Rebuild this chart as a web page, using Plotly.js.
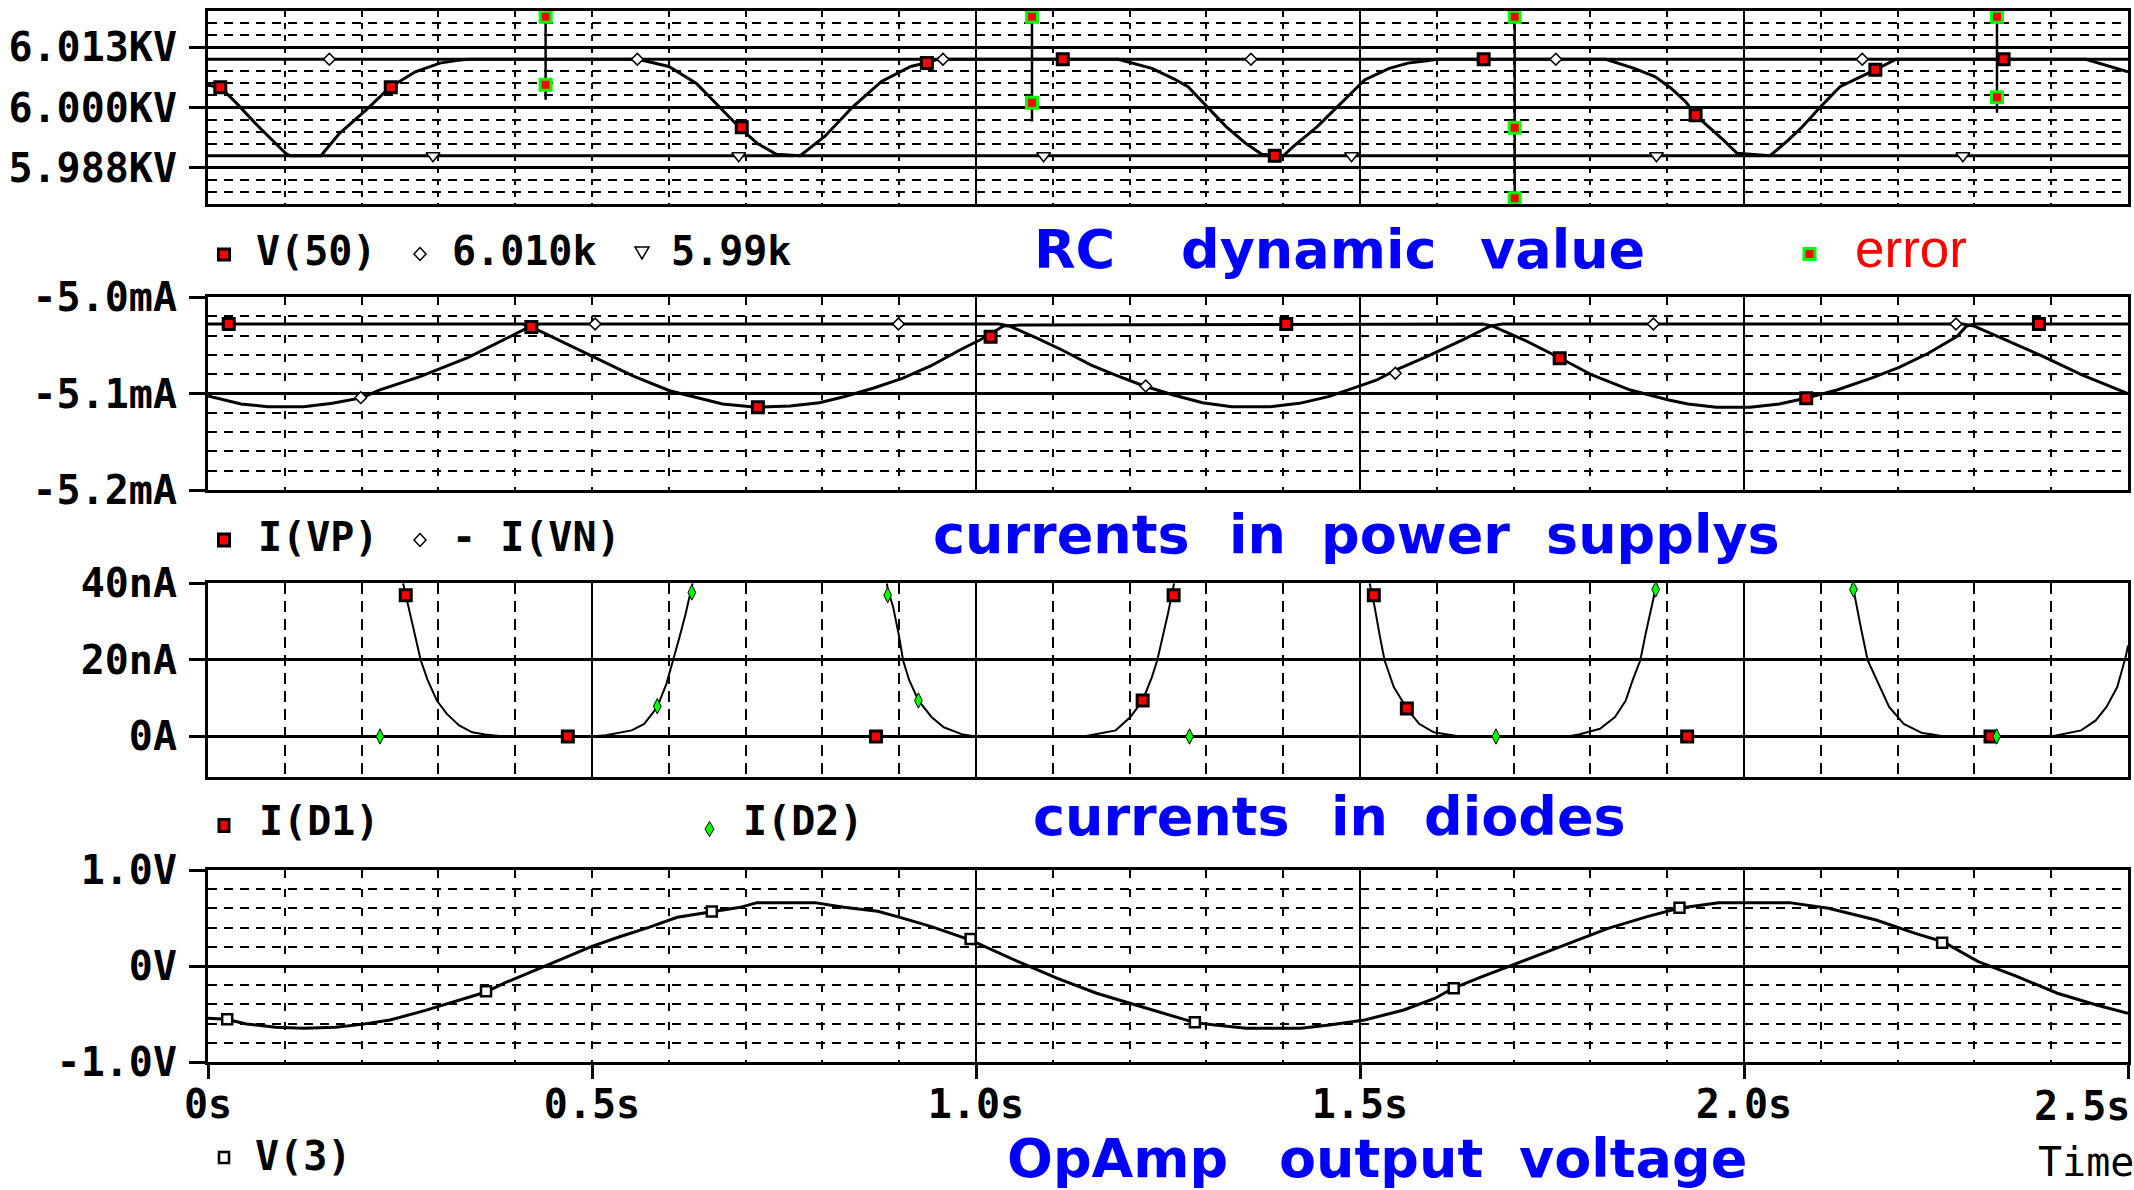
<!DOCTYPE html>
<html><head><meta charset="utf-8">
<script src="https://cdn.plot.ly/plotly-3.0.1.min.js"></script>
<style>html,body{margin:0;padding:0;background:#fff;overflow:hidden}#chart{width:2134px;height:1190px}</style>
</head><body><div id="chart"></div>
<script>
// ---------------- DATA ----------------
// Plot 1 : RC dynamic value (V)
const t_v50 = [0,0.016,0.037,0.066,0.101,0.107,0.147,0.171,0.206,0.237,0.270,0.302,0.325,0.34,0.56,0.60,0.636,0.665,0.693,0.715,0.740,0.771,0.803,0.840,0.877,0.915,0.936,0.95,1.185,1.229,1.257,1.276,1.301,1.326,1.351,1.372,1.40,1.413,1.444,1.475,1.506,1.538,1.5625,1.587,1.60,1.82,1.857,1.884,1.905,1.924,1.937,1.954,1.973,1.991,2.034,2.058,2.076,2.10,2.125,2.172,2.198,2.445,2.484,2.50];
const v50 = [6004.6,6004.2,6000.9,5996.0,5990.5,5990.0,5990.0,5994.6,5999.5,6004.2,6007.4,6009.2,6009.8,6010,6010,6008.5,6005.0,6000.2,5995.7,5992.6,5990.3,5990.0,5994.0,6000.2,6005.4,6008.5,6009.3,6010,6010,6008.1,6006.0,6004.3,6000.2,5996.0,5992.6,5990.3,5990.0,5991.9,5996.0,6000.9,6005.7,6008.1,6009.2,6009.7,6010,6010,6008.1,6006.4,6004.0,6001.2,5998.4,5996.0,5993.3,5990.5,5990.0,5993.3,5996.0,6000.2,6004.3,6007.9,6010,6010,6008.1,6007.4];
const t_v50_mk = [0.016,0.238,0.695,0.936,1.113,1.389,1.661,1.937,2.171,2.338];
const v50_mk = [6004.2,6004.2,5995.9,6009.2,6010.0,5990.0,6010.0,5998.4,6007.8,6010.0];
const t_hi = [0, 2.5], v_hi = [6010, 6010];
const t_lo = [0, 2.5], v_lo = [5990, 5990];
const t_hi_mk = [0.158,0.559,0.957,1.358,1.755,2.154];
const v_hi_mk = [6010,6010,6010,6010,6010,6010];
const t_lo_mk = [0.293,0.691,1.088,1.489,1.886,2.285];
const v_lo_mk = [5990,5990,5990,5990,5990,5990];
const t_err = [0.4396,0.4396,0.4396,1.0729,1.0729,1.0729,1.7014,1.7014,1.7014,2.3294,2.3294];
const v_err = [6020,6001.6,null,6020,5997.1,null,6020,5980,null,6020,5998.9];
const t_err_mk = [0.4396,0.4396,1.0729,1.0729,1.7014,1.7014,1.7014,2.3294,2.3294];
const v_err_mk = [6018.8,6004.7,6018.8,6001.0,6018.8,5995.8,5981.2,6018.8,6002.1];
const v50TickVals = [5987.5, 6000, 6012.5];
const v50TickText = ['5.988KV','6.000KV','6.013KV'];

// Plot 2 : currents in power supplies (mA)
const t_ivp = [0,0.41,0.421,0.456,0.502,0.554,0.601,0.641,0.670,0.714,0.758,0.796,0.828,0.866,0.904,0.941,0.979,1.005,1.036,1.058,1.66,1.672,1.714,1.761,1.802,1.852,1.902,1.927,1.964,2.008,2.046,2.080,2.121,2.165,2.202,2.240,2.277,2.290,2.30,2.5];
const ivp = [-5.028,-5.028,-5.031,-5.0446,-5.0625,-5.0819,-5.0971,-5.1050,-5.1109,-5.1143,-5.1130,-5.1095,-5.1033,-5.0946,-5.0843,-5.0715,-5.0549,-5.0446,-5.0300,-5.0290,-5.028,-5.030,-5.0446,-5.0635,-5.0808,-5.0964,-5.1067,-5.1109,-5.1143,-5.1143,-5.1109,-5.1050,-5.0964,-5.0843,-5.0729,-5.0583,-5.0411,-5.0300,-5.028,-5.028];
const t_inn = [0,0.02,0.043,0.078,0.1245,0.162,0.185,0.201,0.223,0.276,0.339,0.392,0.421,0.432,1.03,1.043,1.080,1.112,1.150,1.181,1.219,1.257,1.295,1.333,1.383,1.421,1.459,1.497,1.522,1.547,1.589,1.633,1.670,1.685,2.285,2.299,2.340,2.390,2.440,2.5];
const inn = [-5.1026,-5.1067,-5.1109,-5.1137,-5.1137,-5.1102,-5.1067,-5.1043,-5.0964,-5.0826,-5.0625,-5.0411,-5.0300,-5.028,-5.028,-5.0300,-5.0428,-5.0549,-5.0705,-5.0808,-5.0922,-5.1016,-5.1095,-5.1137,-5.1137,-5.1102,-5.1033,-5.0929,-5.0860,-5.0756,-5.0611,-5.0446,-5.0300,-5.028,-5.028,-5.0300,-5.0446,-5.0618,-5.0808,-5.1000];
const t_ivp_mk = [0.027,0.421,0.716,1.019,1.404,1.760,2.081,2.384];
const ivp_mk = [-5.028,-5.031,-5.1143,-5.0411,-5.028,-5.0635,-5.1050,-5.028];
const t_inn_mk = [0.199,0.504,0.899,1.221,1.546,1.882,2.276];
const inn_mk = [-5.1043,-5.028,-5.028,-5.0922,-5.0790,-5.028,-5.028];
const iTickVals = [-5.2,-5.1,-5.0];
const iTickText = ['-5.2mA','-5.1mA','-5.0mA'];

// Plot 3 : currents in diodes (nA)
const t_id1 = [0.254,0.2575,0.265,0.2734,0.277,0.286,0.298,0.311,0.327,0.344,0.361,0.385,1.14,1.154,1.182,1.201,1.217,1.229,1.236,1.243,1.25,1.2575,1.258,1.512,1.5125,1.519,1.526,1.532,1.544,1.561,1.577,1.596,1.614,1.63,2.40,2.411,2.439,2.458,2.472,2.486,2.497,2.5];
const id1 = [40,36.9,30.8,23.4,19.9,14.7,9.4,5.9,2.9,1.1,0.5,0,0,0.5,1.6,5.1,9.4,15.5,19.9,26,32.1,39.6,40,null,40,33.9,26,19.9,12.9,7.3,3.3,1.1,0.5,0,0,0.5,1.6,4.2,7.7,12.9,20.8,23.8];
const t_id2 = [0,0.50,0.518,0.5516,0.568,0.585,0.597,0.605,0.614,0.622,0.630,0.631,0.70,0.884,0.885,0.892,0.900,0.905,0.913,0.925,0.942,0.958,0.983,1.0,1.77,1.785,1.8125,1.832,1.846,1.855,1.865,1.872,1.879,1.885,1.886,2.0,2.141,2.1425,2.152,2.161,2.175,2.189,2.208,2.232,2.246,2.26,2.5];
const id2 = [0,0,0.3,1.6,3.3,7.7,13.8,19.9,26,32.1,39.6,40,null,40,38.5,33.9,26,19.9,14.7,9.4,5.1,2.4,0.5,0,0,0.5,2,5.1,9.4,14.7,19.9,26.9,33,38.7,40,null,40,38.4,28.6,19.9,13.8,7.7,3.3,0.9,0.5,0,0];
const t_id1_mk = [0.2575,0.4685,0.8698,1.217,1.2573,1.518,1.561,1.926,2.321];
const id1_mk = [36.9,0,0,9.4,36.9,36.9,7.3,0,0];
const t_id2_mk = [0.224,0.585,0.630,0.885,0.925,1.278,1.677,1.885,2.1425,2.329];
const id2_mk = [0,7.9,37.6,36.9,9.4,0,0,38.4,38.4,0];
const dTickVals = [0,20,40];
const dTickText = ['0A','20nA','40nA'];

// Plot 4 : OpAmp output voltage (V)
const t_v3 = [0,0.024,0.05,0.088,0.125,0.166,0.2,0.237,0.282,0.327,0.361,0.387,0.432,0.469,0.499,0.536,0.574,0.611,0.656,0.693,0.715,0.790,0.828,0.872,0.901,0.942,0.993,1.055,1.106,1.157,1.208,1.25,1.285,1.311,1.352,1.423,1.460,1.506,1.557,1.598,1.621,1.659,1.71,1.772,1.823,1.874,1.915,1.967,2.059,2.110,2.172,2.223,2.259,2.305,2.356,2.408,2.459,2.5];
const v3 = [-0.545,-0.555,-0.604,-0.639,-0.649,-0.639,-0.608,-0.5625,-0.465,-0.354,-0.274,-0.174,-0.024,0.097,0.201,0.305,0.403,0.507,0.566,0.611,0.66,0.66,0.611,0.57,0.507,0.41,0.27,0.045,-0.128,-0.284,-0.406,-0.51,-0.59,-0.615,-0.649,-0.649,-0.615,-0.5625,-0.458,-0.336,-0.232,-0.111,0.045,0.236,0.392,0.514,0.601,0.66,0.66,0.601,0.479,0.34,0.253,0.045,-0.111,-0.284,-0.406,-0.493];
const t_v3_mk = [0.025,0.362,0.656,0.993,1.285,1.622,1.916,2.258];
const v3_mk = [-0.555,-0.263,0.567,0.282,-0.587,-0.231,0.606,0.243];
const v3TickVals = [-1,0,1];
const v3TickText = ['-1.0V','0V','1.0V'];

// Time axis
const timeTickVals = [0,0.5,1.0,1.5,2.0,2.5];
const timeTickText = ['0s','0.5s','1.0s','1.5s','2.0s','2.5s'];
const solidGridTimes = [1.0,1.5,2.0];

// ---------------- LAYOUT HELPERS ----------------
const W = 2134, H = 1190;
const px = x => x / W;
const py = y => 1 - y / H;
const BLACK = '#000000', RED = '#ff0000', GREEN = '#00ff00', BLUE = '#0000ff';
const monoFont = {family:'DejaVu Sans Mono', size:40, color:BLACK, weight:'bold'};
const XDOM = [px(208), px(2128)];

// grid-only time axis (no labels)
function xGridAxis(anchor, dash, gridVals) {
  return {
    domain: XDOM, anchor: anchor, range: [0, 2.5], fixedrange: true,
    tickmode: 'array', tickvals: gridVals, ticktext: gridVals.map(() => ''),
    showticklabels: false, ticks: '',
    showgrid: true, gridcolor: BLACK, gridwidth: 2,
    showline: true, linecolor: BLACK, linewidth: 3, mirror: true, zeroline: false,
    minor: {tickmode:'linear', tick0:0, dtick:0.1, showgrid:true, gridcolor:BLACK, gridwidth:2, griddash:dash, ticks:''}
  };
}
function yAxis(anchor, top, bottom, range, vals, text, minor) {
  const a = {
    domain: [py(bottom), py(top)], anchor: anchor, range: range, fixedrange: true,
    tickmode: 'array', tickvals: vals, ticktext: text,
    ticks: 'outside', ticklen: 16, tickwidth: 3, tickcolor: BLACK,
    tickfont: monoFont, ticklabelstandoff: 4,
    showgrid: true, gridcolor: BLACK, gridwidth: 3,
    showline: true, linecolor: BLACK, linewidth: 3, mirror: true, zeroline: false
  };
  if (minor) a.minor = Object.assign({tickmode:'linear', showgrid:true, gridcolor:BLACK, gridwidth:2, griddash:'9px,7px', ticks:''}, minor);
  return a;
}

// ---------------- TRACES ----------------
const sq = (color, lineColor, lw, size) => ({symbol:'square', size:size||11, color:color, line:{color:lineColor, width:lw}});
const traces = [
  // plot 1
  {name:'6.010k', x:t_hi, y:v_hi, xaxis:'x', yaxis:'y', mode:'lines', line:{color:BLACK, width:3}},
  {name:'5.99k', x:t_lo, y:v_lo, xaxis:'x', yaxis:'y', mode:'lines', line:{color:BLACK, width:3}},
  {name:'V(50)', x:t_v50, y:v50, xaxis:'x', yaxis:'y', mode:'lines', line:{color:BLACK, width:3}},
  {name:'6.010k', x:t_hi_mk, y:v_hi_mk, xaxis:'x', yaxis:'y', mode:'markers', marker:{symbol:'diamond', size:9, color:'#fff', line:{color:BLACK, width:1.5}}},
  {name:'5.99k', x:t_lo_mk, y:v_lo_mk, xaxis:'x', yaxis:'y', mode:'markers', marker:{symbol:'triangle-down', size:12, color:'#fff', line:{color:BLACK, width:1.5}}},
  {name:'V(50)', x:t_v50_mk, y:v50_mk, xaxis:'x', yaxis:'y', mode:'markers', marker:sq(RED, BLACK, 3)},
  {name:'error', x:t_err, y:v_err, xaxis:'x', yaxis:'y', mode:'lines', line:{color:BLACK, width:2.5}},
  {name:'error', x:t_err_mk, y:v_err_mk, xaxis:'x', yaxis:'y', mode:'markers', marker:sq(RED, GREEN, 3)},
  // plot 2
  {name:'I(VP)', x:t_ivp, y:ivp, xaxis:'x2', yaxis:'y2', mode:'lines', line:{color:BLACK, width:3}},
  {name:'- I(VN)', x:t_inn, y:inn, xaxis:'x2', yaxis:'y2', mode:'lines', line:{color:BLACK, width:3}},
  {name:'I(VP)', x:t_ivp_mk, y:ivp_mk, xaxis:'x2', yaxis:'y2', mode:'markers', marker:sq(RED, BLACK, 3)},
  {name:'- I(VN)', x:t_inn_mk, y:inn_mk, xaxis:'x2', yaxis:'y2', mode:'markers', marker:{symbol:'diamond', size:9, color:'#fff', line:{color:BLACK, width:1.5}}},
  // plot 3
  {name:'I(D1)', x:t_id1, y:id1, xaxis:'x3', yaxis:'y3', mode:'lines', line:{color:BLACK, width:2}},
  {name:'I(D2)', x:t_id2, y:id2, xaxis:'x3', yaxis:'y3', mode:'lines', line:{color:BLACK, width:2}},
  {name:'I(D1)', x:t_id1_mk, y:id1_mk, xaxis:'x3', yaxis:'y3', mode:'markers', marker:sq(RED, BLACK, 3)},
  {name:'I(D2)', x:t_id2_mk, y:id2_mk, xaxis:'x3', yaxis:'y3', mode:'markers', marker:{symbol:'diamond-tall', size:11, color:GREEN, line:{color:BLACK, width:1}}},
  // plot 4
  {name:'V(3)', x:t_v3, y:v3, xaxis:'x4', yaxis:'y4', mode:'lines', line:{color:BLACK, width:3}},
  {name:'V(3)', x:t_v3_mk, y:v3_mk, xaxis:'x4', yaxis:'y4', mode:'markers', marker:{symbol:'square', size:10, color:'#fff', line:{color:BLACK, width:2.5}}},
  // empty trace that registers the time-label axis on plot 4
  {name:'time axis', x:[0, 2.5], y:[null, null], xaxis:'x5', yaxis:'y4', mode:'lines', line:{color:'rgba(0,0,0,0)', width:0}}
];

// ---------------- DECORATION (legends, titles) ----------------
function textAnn(text, left, baseline, font, mid) {
  return {text:text, xref:'paper', yref:'paper', x:px(left - 4), y:py(baseline - mid*font.size),
    xanchor:'left', yanchor:'middle', showarrow:false, font:font, borderpad:0};
}
const titleFont = {family:'DejaVu Sans', size:54, color:BLUE, weight:'bold'};
const errFont = {family:'Liberation Sans', size:53, color:RED};
const timeFont = {family:'DejaVu Sans Mono', size:40, color:BLACK};
const annotations = [
  textAnn('RC', 1037, 268, titleFont, 0.346), textAnn('dynamic', 1184, 268, titleFont, 0.346), textAnn('value', 1483, 268, titleFont, 0.346),
  textAnn('currents', 936, 553, titleFont, 0.346), textAnn('in', 1232, 553, titleFont, 0.346), textAnn('power', 1324, 553, titleFont, 0.346), textAnn('supplys', 1549, 553, titleFont, 0.346),
  textAnn('currents', 1036, 835, titleFont, 0.346), textAnn('in', 1334, 835, titleFont, 0.346), textAnn('diodes', 1427, 835, titleFont, 0.346),
  textAnn('OpAmp', 1010, 1177, titleFont, 0.346), textAnn('output', 1282, 1177, titleFont, 0.346), textAnn('voltage', 1522, 1177, titleFont, 0.346),
  textAnn('V(50)', 259, 265, monoFont, 0.346), textAnn('6.010k', 455, 265, monoFont, 0.346), textAnn('5.99k', 674, 265, monoFont, 0.346),
  textAnn('error', 1858, 267, errFont, 0.3465),
  textAnn('I(VP)', 261, 551, monoFont, 0.346), textAnn('- I(VN)', 455, 551, monoFont, 0.346),
  textAnn('I(D1)', 262, 835, monoFont, 0.346), textAnn('I(D2)', 746, 835, monoFont, 0.346),
  textAnn('V(3)', 258, 1170, monoFont, 0.346),
  textAnn('Time', 2041, 1176, timeFont, 0.346),
  {text:timeTickText[5], xref:'paper', yref:'paper', x:px(2131), y:py(1106), xanchor:'right', yanchor:'middle', showarrow:false, font:monoFont, borderpad:0}
];
function rect(cx, cy, w, h, fill, lc, lw) {
  return {type:'rect', xref:'paper', yref:'paper', x0:px(cx-w/2), x1:px(cx+w/2), y0:py(cy+h/2), y1:py(cy-h/2), fillcolor:fill, line:{color:lc, width:lw}, layer:'above'};
}
function diamond(cx, cy, w, h, fill, lc, lw) {
  return {type:'path', xref:'paper', yref:'paper', layer:'above', fillcolor:fill, line:{color:lc, width:lw},
    path:`M ${px(cx)},${py(cy-h/2)} L ${px(cx+w/2)},${py(cy)} L ${px(cx)},${py(cy+h/2)} L ${px(cx-w/2)},${py(cy)} Z`};
}
function triDown(cx, cy, w, h, fill, lc, lw) {
  return {type:'path', xref:'paper', yref:'paper', layer:'above', fillcolor:fill, line:{color:lc, width:lw},
    path:`M ${px(cx-w/2)},${py(cy-h/2)} L ${px(cx+w/2)},${py(cy-h/2)} L ${px(cx)},${py(cy+h/2)} Z`};
}
const shapes = [
  rect(224, 254.5, 11, 11, RED, BLACK, 3),
  diamond(420, 254, 12, 13, '#fff', BLACK, 1.5),
  triDown(642, 253, 14, 12, '#fff', BLACK, 1.5),
  rect(1809.5, 254, 11, 11, RED, GREEN, 3),
  rect(224, 540, 11, 12, RED, BLACK, 3),
  diamond(420, 540, 12, 13, '#fff', BLACK, 1.5),
  rect(224, 825.5, 10, 12, RED, BLACK, 3),
  diamond(709.5, 829, 9, 15, GREEN, BLACK, 1),
  rect(224, 1157.5, 10, 11, '#fff', BLACK, 2.5)
];

const layout = {
  width: W, height: H, autosize: false,
  margin: {l:0, r:0, t:0, b:0, pad:0},
  paper_bgcolor: '#fff', plot_bgcolor: '#fff', showlegend: false,
  font: {family:'DejaVu Sans Mono', color:BLACK},
  xaxis: xGridAxis('y', '6px,6px', solidGridTimes),
  xaxis2: xGridAxis('y2', '8px,11px', solidGridTimes),
  xaxis3: xGridAxis('y3', '11px,7px', timeTickVals),
  xaxis4: xGridAxis('y4', '8px,11px', solidGridTimes),
  // tick marks + labels of the time axis, drawn over plot 4
  xaxis5: {
    overlaying: 'x4', anchor: 'y4', side: 'bottom', domain: XDOM, range: [0, 2.5], fixedrange: true,
    tickmode: 'array', tickvals: timeTickVals, ticktext: timeTickText.slice(0,5).concat(['']),
    ticks: 'outside', ticklen: 16, tickwidth: 3, tickcolor: BLACK,
    tickfont: monoFont, ticklabelstandoff: -9,
    showgrid: false, showline: false, zeroline: false
  },
  yaxis: yAxis('x', 11, 204, [5980, 6020], v50TickVals, v50TickText, {tick0:5980, dtick:2.5}),
  yaxis2: yAxis('x2', 297, 490, [-5.2, -5.0], iTickVals, iTickText, {tick0:-5.2, dtick:0.02}),
  yaxis3: yAxis('x3', 583.3, 776.7, [-10.5, 40], dTickVals, dTickText, null),
  yaxis4: yAxis('x4', 870, 1062, [-1, 1], v3TickVals, v3TickText, {tick0:-1, dtick:0.2}),
  annotations: annotations,
  shapes: shapes
};

Plotly.newPlot('chart', traces, layout, {staticPlot:true, displayModeBar:false});
</script></body></html>
